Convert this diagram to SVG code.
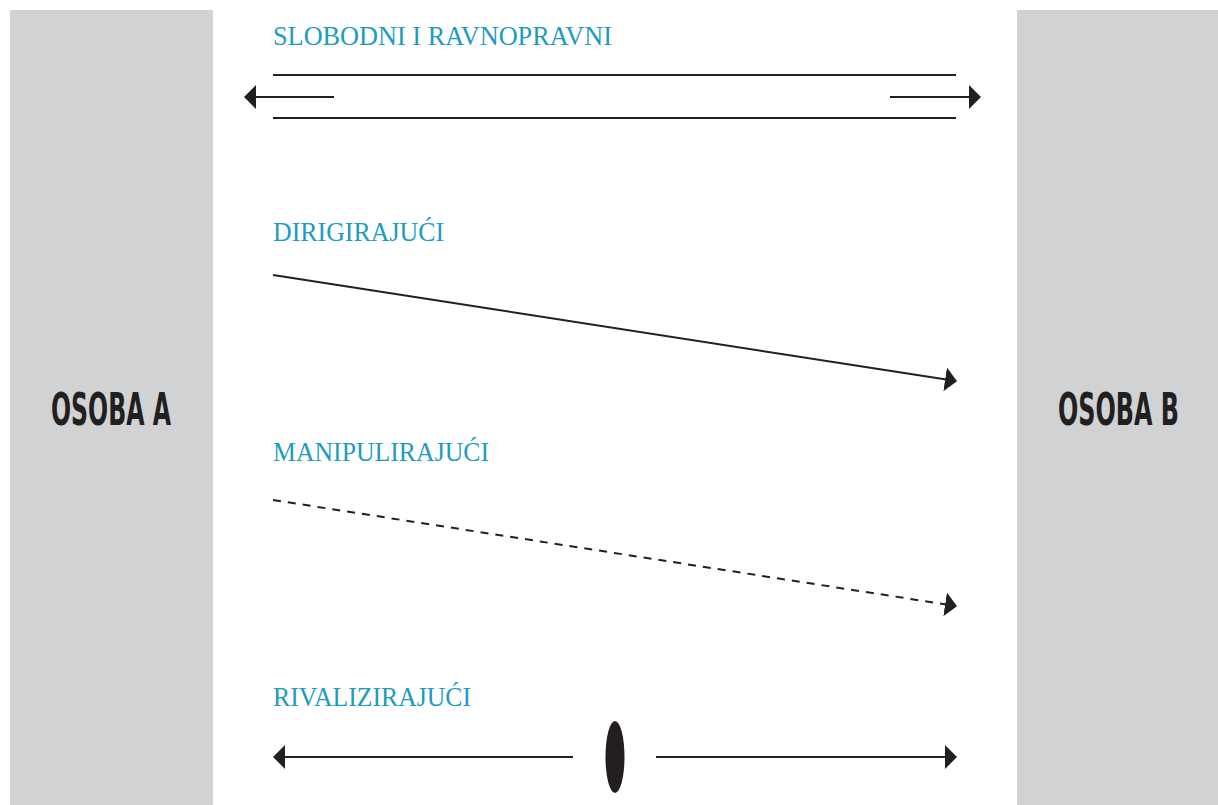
<svg xmlns="http://www.w3.org/2000/svg" width="1218" height="805" viewBox="0 0 1218 805">
  <style>
    .panel { fill: #d1d2d4; }
    .person { font-family: "DejaVu Sans", "Liberation Sans", sans-serif; font-weight: bold; font-stretch: condensed; font-size: 44px; fill: #231f20; }
    .label { font-family: "Liberation Serif", "DejaVu Serif", serif; font-size: 28px; fill: #1d9bc0; }
    .line { stroke: #231f20; stroke-width: 2; fill: none; }
    .dashed { stroke-dasharray: 8 7; }
  </style>
  <defs>
    <marker id="arrow" viewBox="0 0 12 24" refX="11" refY="12" markerWidth="12" markerHeight="24" markerUnits="userSpaceOnUse" orient="auto-start-reverse">
      <path d="M0,0 L12,12 L0,24 Z" fill="#231f20"/>
    </marker>
  </defs>

  <rect width="1218" height="805" fill="#ffffff"/>

  <g id="osoba-a">
    <rect class="panel" x="10" y="10" width="203" height="795"/>
    <text class="person" x="51" y="425" textLength="120" lengthAdjust="spacingAndGlyphs">OSOBA A</text>
  </g>
  <g id="osoba-b">
    <rect class="panel" x="1017" y="10" width="201" height="795"/>
    <text class="person" x="1058" y="425" textLength="121" lengthAdjust="spacingAndGlyphs">OSOBA B</text>
  </g>

  <g id="labels">
    <text class="label" x="273" y="45" textLength="339" lengthAdjust="spacingAndGlyphs">SLOBODNI I RAVNOPRAVNI</text>
    <text class="label" x="273" y="241" textLength="171" lengthAdjust="spacingAndGlyphs">DIRIGIRAJUĆI</text>
    <text class="label" x="273" y="461" textLength="216" lengthAdjust="spacingAndGlyphs">MANIPULIRAJUĆI</text>
    <text class="label" x="273" y="706" textLength="198" lengthAdjust="spacingAndGlyphs">RIVALIZIRAJUĆI</text>
  </g>

  <g id="connectors">
    <!-- free and equal: parallel rails with outward arrows -->
    <line class="line" x1="273" y1="75" x2="956" y2="75"/>
    <line class="line" x1="273" y1="118" x2="956" y2="118"/>
    <line class="line" x1="334" y1="97" x2="245" y2="97" marker-end="url(#arrow)"/>
    <line class="line" x1="890" y1="97" x2="980" y2="97" marker-end="url(#arrow)"/>
    <!-- directing -->
    <line class="line" x1="273" y1="275" x2="956" y2="381" marker-end="url(#arrow)"/>
    <!-- manipulating -->
    <line class="line dashed" x1="273" y1="500" x2="956" y2="606" marker-end="url(#arrow)"/>
    <!-- rivalling -->
    <line class="line" x1="573" y1="757" x2="274" y2="757" marker-end="url(#arrow)"/>
    <line class="line" x1="656" y1="757" x2="956" y2="757" marker-end="url(#arrow)"/>
    <ellipse cx="615" cy="757" rx="9.5" ry="36" fill="#231f20"/>
  </g>
</svg>
